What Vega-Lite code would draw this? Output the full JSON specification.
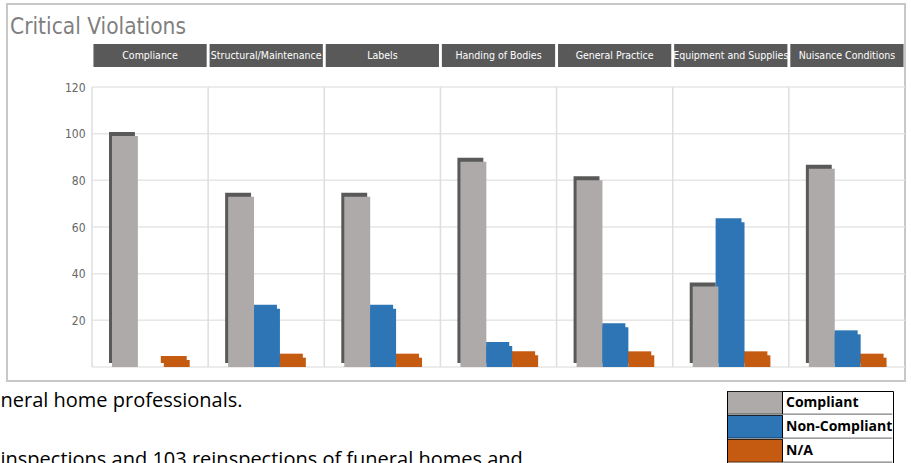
{
  "$schema": "https://vega.github.io/schema/vega-lite/v6.json",
  "autosize": "none",
  "padding": {"left": 7, "top": 4, "right": 6, "bottom": 82},
  "width": 898,
  "height": 377,
  "background": "white",
  "config": {
    "view": {"stroke": "#c8c8c8", "strokeWidth": 2},
    "legend": {
      "orient": "none",
      "legendX": 720,
      "legendY": 387,
      "title": null,
      "symbolType": "M-1,-1H3.78V1H-1Z M3.78,1H13.6",
      "symbolSize": 529,
      "symbolStrokeColor": "black",
      "symbolStrokeWidth": 1,
      "symbolOpacity": 1,
      "clipHeight": 23.5,
      "labelOffset": 35,
      "rowPadding": 0,
      "padding": 0,
      "strokeColor": "black",
      "labelColor": "black",
      "labelFont": "Open Sans",
      "labelFontSize": 14,
      "labelFontWeight": "bold",
      "labelLimit": 200
    }
  },
  "title": {
    "text": "Critical Violations",
    "anchor": "start",
    "frame": "group",
    "font": "Liberation Sans Narrow, DejaVu Sans Condensed, sans-serif",
    "fontSize": 22.5,
    "fontWeight": "normal",
    "color": "#7f7f7f",
    "baseline": "alphabetic",
    "offset": -52,
    "dx": 3
  },
  "datasets": {
    "bars": [
      {"category": "Compliance", "status": "Compliant", "value": 99},
      {"category": "Compliance", "status": "Non-Compliant", "value": 0},
      {"category": "Compliance", "status": "N/A", "value": 3},
      {"category": "Structural/Maintenance", "status": "Compliant", "value": 73},
      {"category": "Structural/Maintenance", "status": "Non-Compliant", "value": 25},
      {"category": "Structural/Maintenance", "status": "N/A", "value": 4},
      {"category": "Labels", "status": "Compliant", "value": 73},
      {"category": "Labels", "status": "Non-Compliant", "value": 25},
      {"category": "Labels", "status": "N/A", "value": 4},
      {"category": "Handing of Bodies", "status": "Compliant", "value": 88},
      {"category": "Handing of Bodies", "status": "Non-Compliant", "value": 9},
      {"category": "Handing of Bodies", "status": "N/A", "value": 5},
      {"category": "General Practice", "status": "Compliant", "value": 80},
      {"category": "General Practice", "status": "Non-Compliant", "value": 17},
      {"category": "General Practice", "status": "N/A", "value": 5},
      {"category": "Equipment and Supplies", "status": "Compliant", "value": 34.5},
      {"category": "Equipment and Supplies", "status": "Non-Compliant", "value": 62},
      {"category": "Equipment and Supplies", "status": "N/A", "value": 5},
      {"category": "Nuisance Conditions", "status": "Compliant", "value": 85},
      {"category": "Nuisance Conditions", "status": "Non-Compliant", "value": 14},
      {"category": "Nuisance Conditions", "status": "N/A", "value": 4}
    ],
    "cats": [
      {"category": "Compliance"},
      {"category": "Structural/Maintenance"},
      {"category": "Labels"},
      {"category": "Handing of Bodies"},
      {"category": "General Practice"},
      {"category": "Equipment and Supplies"},
      {"category": "Nuisance Conditions"}
    ],
    "grid": [{"v": 0}, {"v": 20}, {"v": 40}, {"v": 60}, {"v": 80}, {"v": 100}, {"v": 120}]
  },
  "resolve": {"scale": {"xOffset": "independent"}},
  "layer": [
    {
      "data": {"name": "grid"},
      "mark": {"type": "rule", "color": "#e6e6e6", "strokeWidth": 1.5},
      "encoding": {
        "x": {"datum": "Compliance", "type": "nominal", "bandPosition": 0,
              "scale": {"domain": ["Compliance", "Structural/Maintenance", "Labels", "Handing of Bodies", "General Practice", "Equipment and Supplies", "Nuisance Conditions"], "range": [85, 898], "paddingInner": 0, "paddingOuter": 0},
              "axis": {"orient": "bottom", "labels": false, "ticks": false, "domain": false, "grid": false,
                       "title": ["neral home professionals.", "inspections and 103 reinspections of funeral homes and"],
                       "titleX": -7, "titleY": 25, "titleAlign": "left", "titleAnchor": "start", "titleBaseline": "alphabetic",
                       "titleFont": "Open Sans", "titleFontSize": 20, "titleFontWeight": "normal", "titleColor": "black", "titleLineHeight": 59}},
        "x2": {"datum": "Nuisance Conditions", "bandPosition": 1},
        "y": {"field": "v", "type": "quantitative", "scale": {"domain": [0, 120], "range": [363, 83], "nice": false, "zero": true},
              "axis": {"orient": "left", "values": [20, 40, 60, 80, 100, 120], "offset": -78, "labelPadding": 0, "ticks": false, "tickSize": 0, "domain": false, "grid": false, "title": null,
                       "labelFont": "Liberation Sans Narrow, DejaVu Sans Condensed, sans-serif", "labelFontSize": 12, "labelColor": "#666666"}}
      }
    },
    {
      "data": {"name": "cats"},
      "mark": {"type": "rule", "color": "#dedede", "strokeWidth": 1.5},
      "encoding": {
        "x": {"field": "category", "type": "nominal", "bandPosition": 0},
        "y": {"datum": 0, "type": "quantitative"},
        "y2": {"datum": 120}
      }
    },
    {
      "data": {"name": "bars"},
      "mark": {"type": "bar", "yOffset": -4},
      "encoding": {
        "x": {"field": "category", "type": "nominal"},
        "xOffset": {"field": "status", "type": "nominal", "scale": {"domain": ["Compliant", "Non-Compliant", "N/A"], "range": [17, 94.7], "paddingInner": 0, "paddingOuter": 0}},
        "y": {"field": "value", "type": "quantitative"},
        "color": {
          "condition": {"test": "datum.status === 'Compliant'", "value": "#595959"},
          "field": "status", "type": "nominal",
          "scale": {"domain": ["Compliant", "Non-Compliant", "N/A"], "range": ["#aeaaaa", "#2e75b6", "#c55a11"]}
        }
      }
    },
    {
      "data": {"name": "bars"},
      "mark": {"type": "bar"},
      "encoding": {
        "x": {"field": "category", "type": "nominal"},
        "xOffset": {"field": "status", "type": "nominal", "scale": {"domain": ["Compliant", "Non-Compliant", "N/A"], "range": [20, 97.7], "paddingInner": 0, "paddingOuter": 0}},
        "y": {"field": "value", "type": "quantitative"},
        "color": {"field": "status", "type": "nominal"}
      }
    },
    {
      "data": {"name": "cats"},
      "mark": {"type": "bar", "color": "#595959", "width": {"band": 0.975}},
      "encoding": {
        "x": {"field": "category", "type": "nominal"},
        "y": {"datum": 128.6, "type": "quantitative"},
        "y2": {"datum": 138.4}
      }
    },
    {
      "data": {"name": "cats"},
      "mark": {"type": "text", "color": "white", "baseline": "middle", "font": "Liberation Sans Narrow, DejaVu Sans Condensed, sans-serif", "fontSize": 10.5},
      "encoding": {
        "x": {"field": "category", "type": "nominal"},
        "y": {"datum": 133.5, "type": "quantitative"},
        "text": {"field": "category"}
      }
    }
  ]
}
